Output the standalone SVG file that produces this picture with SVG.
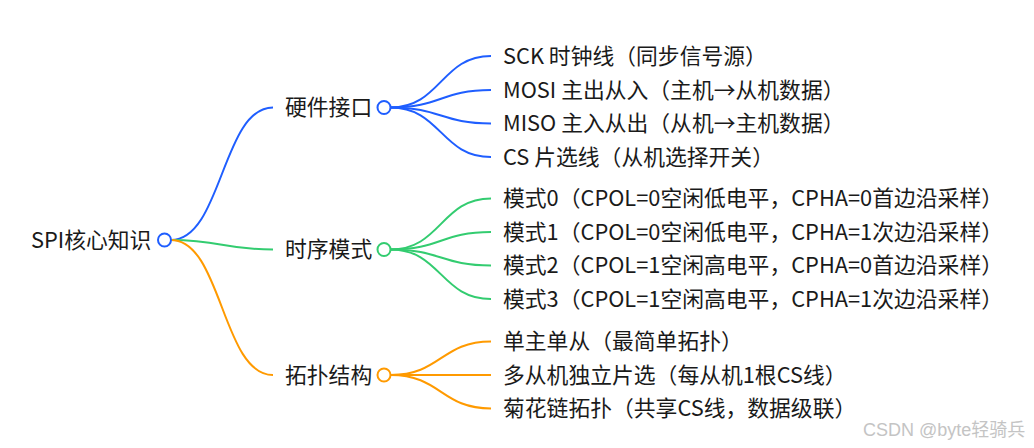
<svg xmlns="http://www.w3.org/2000/svg" width="1034" height="448" viewBox="0 0 1034 448">
<style>
.t{font-family:"Noto Sans CJK SC","Noto Sans",sans-serif;font-size:21.8px;fill:#1a1a1a}
.l{fill:none;stroke-width:2}
.b{stroke:#1f5eff}.g{stroke:#33cc70}.o{stroke:#ff9a00}
.c{fill:#fff;stroke-width:2}
.wm{font-family:"Liberation Sans","Noto Sans CJK SC",sans-serif;font-size:18px;fill:#c4c4c4}
</style>
<rect width="1034" height="448" fill="#fff"/>
<g id="connectors">
<path class="l b" d="M171,240 C222,240 222,107.5 273,107.5"/>
<path class="l g" d="M171,240 C222,240 222,249.5 273,249.5"/>
<path class="l o" d="M171,240 C222,240 222,375 273,375"/>
<path class="l b" d="M390.5,107.5 C441,107.5 441,56 491,56"/>
<path class="l b" d="M390.5,107.5 C441,107.5 441,90 491,90"/>
<path class="l b" d="M390.5,107.5 C441,107.5 441,123.5 491,123.5"/>
<path class="l b" d="M390.5,107.5 C441,107.5 441,157 491,157"/>
<path class="l g" d="M390.5,249.5 C441,249.5 441,198.5 491,198.5"/>
<path class="l g" d="M390.5,249.5 C441,249.5 441,232 491,232"/>
<path class="l g" d="M390.5,249.5 C441,249.5 441,265.5 491,265.5"/>
<path class="l g" d="M390.5,249.5 C441,249.5 441,299 491,299"/>
<path class="l o" d="M390.5,375 C441,375 441,341.5 491,341.5"/>
<path class="l o" d="M390.5,375 C441,375 441,375 491,375"/>
<path class="l o" d="M390.5,375 C441,375 441,408.5 491,408.5"/>
</g>
<g id="root">
<text class="t" x="31" y="248">SPI核心知识</text>
<circle class="c b" cx="164.5" cy="240" r="6.5"/>
</g>
<g id="hw">
<text class="t" x="285" y="115">硬件接口</text>
<circle class="c b" cx="384" cy="107.5" r="6.5"/>
</g>
<g id="timing">
<text class="t" x="285" y="257">时序模式</text>
<circle class="c g" cx="384" cy="249.5" r="6.5"/>
</g>
<g id="topo">
<text class="t" x="285" y="382.5">拓扑结构</text>
<circle class="c o" cx="384" cy="375" r="6.5"/>
</g>
<g id="sck"><text class="t" x="503" y="63.5">SCK 时钟线（同步信号源）</text></g>
<g id="mosi"><text class="t" x="503" y="97.5">MOSI 主出从入（主机→从机数据）</text></g>
<g id="miso"><text class="t" x="503" y="131">MISO 主入从出（从机→主机数据）</text></g>
<g id="cs"><text class="t" x="503" y="164.5">CS 片选线（从机选择开关）</text></g>
<g id="mode0"><text class="t" x="503" y="206">模式0（CPOL=0空闲低电平，CPHA=0首边沿采样）</text></g>
<g id="mode1"><text class="t" x="503" y="239.5">模式1（CPOL=0空闲低电平，CPHA=1次边沿采样）</text></g>
<g id="mode2"><text class="t" x="503" y="273">模式2（CPOL=1空闲高电平，CPHA=0首边沿采样）</text></g>
<g id="mode3"><text class="t" x="503" y="306.5">模式3（CPOL=1空闲高电平，CPHA=1次边沿采样）</text></g>
<g id="single"><text class="t" x="503" y="349">单主单从（最简单拓扑）</text></g>
<g id="multi"><text class="t" x="503" y="382.5">多从机独立片选（每从机1根CS线）</text></g>
<g id="daisy"><text class="t" x="503" y="416">菊花链拓扑（共享CS线，数据级联）</text></g>
<text class="wm" x="863" y="436">CSDN @byte轻骑兵</text>
</svg>
